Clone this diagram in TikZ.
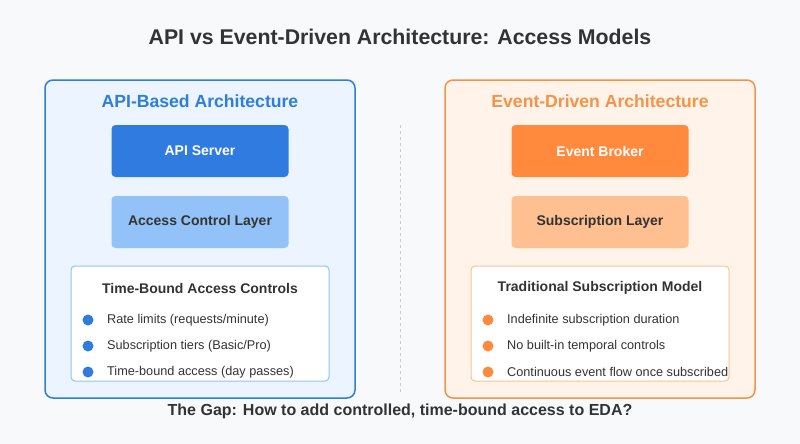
\documentclass[tikz,border=0pt]{standalone}
\usepackage{fontspec}
\setmainfont{Liberation Sans}
\definecolor{bgcol}{HTML}{F8F9FA}
\definecolor{txtcol}{HTML}{333333}
\definecolor{apiline}{HTML}{2F7EDB}
\definecolor{apifill}{HTML}{EBF4FF}
\definecolor{apidark}{HTML}{2F7BE0}
\definecolor{apilight}{HTML}{93C2F8}
\definecolor{apiedge}{HTML}{93C2F8}
\definecolor{edaline}{HTML}{F4934A}
\definecolor{edafill}{HTML}{FFF3EA}
\definecolor{edadark}{HTML}{FF8A3D}
\definecolor{edalight}{HTML}{FFC091}
\definecolor{edaedge}{HTML}{FFC091}
\tikzset{
	panel/.style={line width=1.5pt, rounded corners=8pt},
	layerbox/.style={rounded corners=4pt, minimum width=177pt, minimum height=52pt, inner sep=0pt, font=\fontsize{14}{16}\selectfont\bfseries},
	listbox/.style={line width=1pt, fill=white, rounded corners=4pt},
	bullettext/.style={anchor=west, inner sep=0pt, text=txtcol, font=\fontsize{12.7}{15}\selectfont},
}
\begin{document}
\begin{tikzpicture}[x=1pt, y=-1pt]
	\fill[bgcol] (0,0) rectangle (800,444);
	\useasboundingbox (0,0) rectangle (800,444);
	\node (title) at (400,37) {\fontsize{21.3}{25}\selectfont\bfseries\color{txtcol}API vs Event-Driven Architecture: Access Models};

	% API side
	\draw[panel, draw=apiline, fill=apifill] (45,80) rectangle (355,398);
	\node (apititle) at (200,101) {\fontsize{17.6}{20}\selectfont\bfseries\color{apiline}API-Based Architecture};
	\node[layerbox, fill=apidark, text=white] (apiserver) at (200,151) {API Server};
	\node[layerbox, fill=apilight, text=txtcol] (access) at (200,222) {Access Control Layer};
	\draw[listbox, draw=apiedge] (71,266) rectangle (329,381);
	\node (apilist) at (200,288) {\fontsize{14}{16}\selectfont\bfseries\color{txtcol}Time-Bound Access Controls};
	\foreach \y/\txt in {320/{Rate limits (requests/minute)}, 346/{Subscription tiers (Basic/Pro)}, 372/{Time-bound access (day passes)}} {
		\fill[apidark] (88,\y) circle (5.5pt);
		\node[bullettext] at (107,\y) {\txt};
	}

	% divider
	\draw[dashed, gray!40, line width=1pt] (400,125) -- (400,395);

	% EDA side
	\draw[panel, draw=edaline, fill=edafill] (445,80) rectangle (755,398);
	\node (edatitle) at (600,101) {\fontsize{17.6}{20}\selectfont\bfseries\color{edaline}Event-Driven Architecture};
	\node[layerbox, fill=edadark, text=white] (broker) at (600,151) {Event Broker};
	\node[layerbox, fill=edalight, text=txtcol] (subscr) at (600,222) {Subscription Layer};
	\draw[listbox, draw=edaedge] (471,266) rectangle (729,381);
	\node (edalist) at (600,288) {\fontsize{14}{16}\selectfont\bfseries\color{txtcol}Traditional Subscription Model};
	\foreach \y/\txt in {320/{Indefinite subscription duration}, 346/{No built-in temporal controls}, 372/{Continuous event flow once subscribed}} {
		\fill[edadark] (488,\y) circle (5.5pt);
		\node[bullettext] at (507,\y) {\txt};
	}

	\node (gap) at (400,411) {\fontsize{16}{19}\selectfont\bfseries\color{txtcol}The Gap: How to add controlled, time-bound access to EDA?};
\end{tikzpicture}
\end{document}
